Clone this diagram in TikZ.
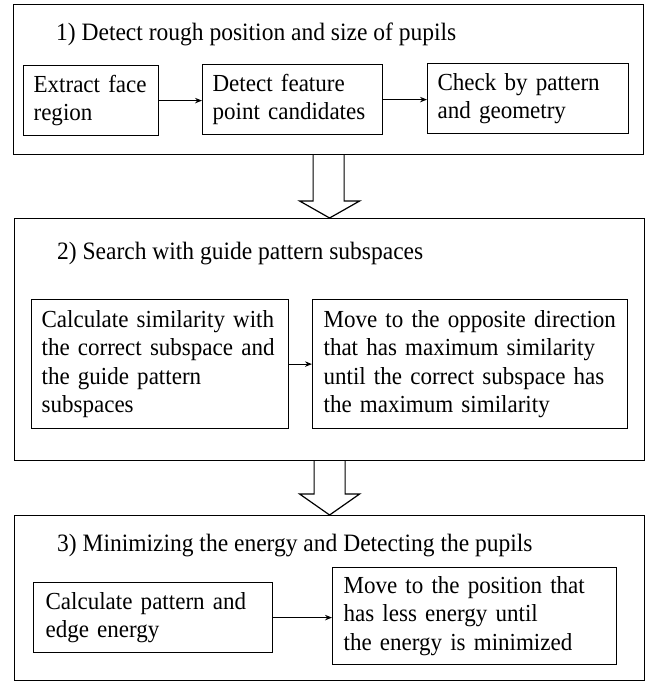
\documentclass[tikz,border=0pt]{standalone}
\usepackage{fontspec}
\setmainfont{Liberation Serif}[FakeStretch=0.94]
\usetikzlibrary{arrows.meta,calc}
\tikzset{
  outerbox/.style={draw, line width=1.2pt, anchor=north west, inner sep=0pt},
  stepbox/.style={draw, line width=1.2pt, anchor=north west, inner xsep=10pt, inner ysep=0pt, align=left,
    font=\fontsize{24.5}{28.5}\selectfont},
  titletext/.style={anchor=west, inner sep=0pt, font=\fontsize{25}{28.5}\selectfont},
  flow/.style={line width=1.1pt, -{Stealth[length=7pt,width=5.5pt]}},
  hollow/.style={line width=1.2pt, fill=white}
}
\begin{document}
\begin{tikzpicture}[x=1pt,y=-1pt]
\useasboundingbox (0,0) rectangle (651,682);
% stage 1
\node[outerbox, minimum width=630pt, minimum height=150pt] (box1) at (13,4) {};
\node[titletext] (t1) at (56,34) {1) Detect rough position and size of pupils};
\node[stepbox, minimum width=135pt, minimum height=70pt, text width=115pt] (a1) at (23,65) {\mbox{Extract face}\\\mbox{region}};
\node[stepbox, minimum width=180pt, minimum height=70pt, text width=160pt] (b1) at (202,64) {\mbox{Detect feature}\\\mbox{point candidates}};
\node[stepbox, minimum width=201pt, minimum height=70pt, text width=181pt] (c1) at (427,63) {\mbox{Check by pattern}\\\mbox{and geometry}};
\draw[flow] (a1.east) -- (a1.east -| b1.west);
\draw[flow] (b1.east) -- (b1.east -| c1.west);
% stage 2
\node[outerbox, minimum width=630pt, minimum height=242pt] (box2) at (14,218) {};
\node[titletext] (t2) at (57,254) {2) Search with guide pattern subspaces};
\node[stepbox, inner xsep=10pt, minimum width=257pt, minimum height=129pt, text width=237pt] (a2) at (31,299) {\mbox{Calculate similarity with}\\\mbox{the correct subspace and}\\\mbox{the guide pattern}\\\mbox{subspaces}};
\node[stepbox, inner xsep=11pt, minimum width=315pt, minimum height=129pt, text width=293pt] (b2) at (312,299) {\mbox{Move to the opposite direction}\\\mbox{that has maximum similarity}\\\mbox{until the correct subspace has}\\\mbox{the maximum similarity}};
\draw[flow] (a2.east) -- (a2.east -| b2.west);
% stage 3
\node[outerbox, minimum width=630pt, minimum height=165pt] (box3) at (14,515) {};
\node[titletext] (t3) at (57,546) {3) Minimizing the energy and Detecting the pupils};
\node[stepbox, inner xsep=12pt, minimum width=239pt, minimum height=70pt, text width=215pt] (a3) at (33,582) {\mbox{Calculate pattern and}\\\mbox{edge energy}};
\node[stepbox, inner xsep=11pt, minimum width=284pt, minimum height=97pt, text width=262pt] (b3) at (332,567) {\mbox{Move to the position that}\\\mbox{has less energy until}\\\mbox{the energy is minimized}};
\draw[flow] (a3.east) -- (a3.east -| b3.west);
% hollow arrows
\draw[hollow] ([xshift=-15.5pt]box1.south) |- ([xshift=-30pt,yshift=17pt]box2.north)
  -- (box2.north) -- ([xshift=30pt,yshift=17pt]box2.north) -| ([xshift=15.5pt]box1.south);
\draw[hollow] ([xshift=-15.5pt]box2.south) |- ([xshift=-30pt,yshift=21pt]box3.north)
  -- (box3.north) -- ([xshift=30pt,yshift=21pt]box3.north) -| ([xshift=15.5pt]box2.south);
\end{tikzpicture}
\end{document}
